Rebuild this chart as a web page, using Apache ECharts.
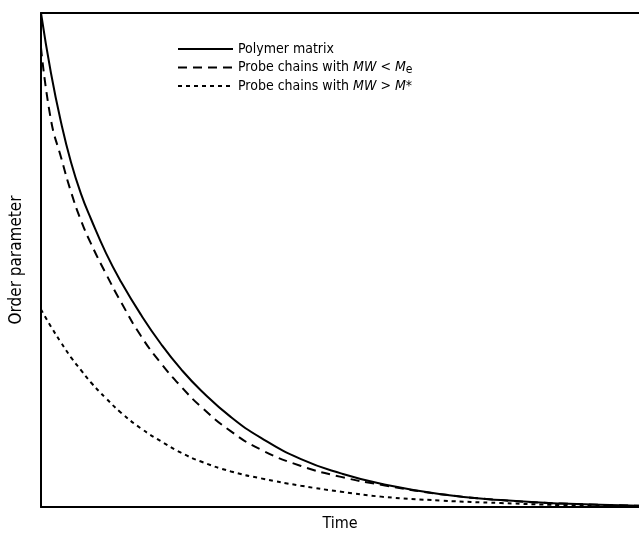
<!DOCTYPE html>
<html>
<head>
<meta charset="utf-8">
<script src="https://cdn.jsdelivr.net/npm/echarts@6/dist/echarts.min.js"></script>
<style>
  html, body { margin: 0; padding: 0; background: #fff; }
  #chart { width: 639px; height: 533px; }
</style>
</head>
<body>
<div id="chart"></div>
<script>
// 时间（任意单位）
const times = [0, 10, 20, 30, 40, 50, 65, 80, 100, 120, 140, 160, 190, 220, 260, 300, 340, 400, 460, 520, 598]
const polymerMatrix = [1.00, 0.878, 0.779, 0.698, 0.634, 0.583, 0.514, 0.456, 0.389, 0.330, 0.279, 0.236, 0.182, 0.140, 0.097, 0.068, 0.047, 0.026, 0.014, 0.007, 0.0025]
const probeBelowMe = [0.93, 0.783, 0.708, 0.638, 0.58, 0.533, 0.472, 0.415, 0.346, 0.291, 0.244, 0.203, 0.153, 0.116, 0.083, 0.061, 0.045, 0.026, 0.014, 0.007, 0.0025]
const probeAboveMstar = [0.40, 0.365, 0.333, 0.303, 0.277, 0.252, 0.220, 0.191, 0.159, 0.133, 0.110, 0.092, 0.072, 0.058, 0.043, 0.031, 0.021, 0.013, 0.008, 0.004, 0.001]
const seriesNames = ['Polymer matrix', 'Probe chains with MW < Me', 'Probe chains with MW > M*']

const pairs = (vals) => times.map((t, i) => [t, vals[i]])

const font = '"Liberation Sans Narrow", "DejaVu Sans Condensed", sans-serif'
const chart = echarts.init(document.getElementById('chart'))

const line = (name, vals, type) => ({
  name: name,
  type: 'line',
  data: pairs(vals),
  symbol: 'none',
  smooth: true,
  lineStyle: { color: '#000', width: 2, type: type },
  itemStyle: { color: '#000' }
})

chart.setOption({
  animation: false,
  backgroundColor: '#fff',
  grid: { left: 41, right: 0, top: 13, bottom: 26, outerBoundsMode: 'none', containLabel: false },
  legend: {
    orient: 'vertical',
    left: 172,
    top: 37,
    itemWidth: 55,
    itemHeight: 12,
    itemGap: 3,
    data: seriesNames,
    itemStyle: { opacity: 0 },
    formatter: (name) => {
      if (name === seriesNames[1]) return '{n|Probe chains with }{i|MW}{n| < }{i|M}{s|e}'
      if (name === seriesNames[2]) return '{n|Probe chains with }{i|MW}{n| > }{i|M}{n|*}'
      return '{n|' + name + '}'
    },
    textStyle: {
      color: '#000',
      fontFamily: font,
      fontSize: 14,
      rich: {
        n: { fontFamily: font, fontSize: 14, color: '#000', lineHeight: 18 },
        i: { fontFamily: font, fontSize: 14, fontStyle: 'italic', color: '#000', lineHeight: 18 },
        s: { fontFamily: font, fontSize: 12, color: '#000', lineHeight: 18, padding: [5, 0, 0, 0] }
      }
    }
  },
  xAxis: [{
    type: 'value',
    min: 0,
    max: 598,
    name: 'Time',
    nameLocation: 'middle',
    nameGap: 9,
    nameTextStyle: { fontFamily: font, fontSize: 16, color: '#000' },
    axisLine: { show: true, lineStyle: { color: '#000', width: 2 } },
    axisTick: { show: false },
    axisLabel: { show: false },
    splitLine: { show: false }
  }, {
    type: 'value',
    position: 'top',
    min: 0,
    max: 598,
    axisLine: { show: true, lineStyle: { color: '#000', width: 2 } },
    axisTick: { show: false },
    axisLabel: { show: false },
    splitLine: { show: false }
  }],
  yAxis: {
    type: 'value',
    min: 0,
    max: 1,
    name: 'Order parameter',
    nameLocation: 'middle',
    nameGap: 16,
    nameTextStyle: { fontFamily: font, fontSize: 17, color: '#000' },
    axisLine: { show: true, lineStyle: { color: '#000', width: 2 } },
    axisTick: { show: false },
    axisLabel: { show: false },
    splitLine: { show: false }
  },
  series: [
    line(seriesNames[0], polymerMatrix, 'solid'),
    line(seriesNames[1], probeBelowMe, [9, 6]),
    line(seriesNames[2], probeAboveMstar, [4, 4])
  ]
})
</script>
</body>
</html>
